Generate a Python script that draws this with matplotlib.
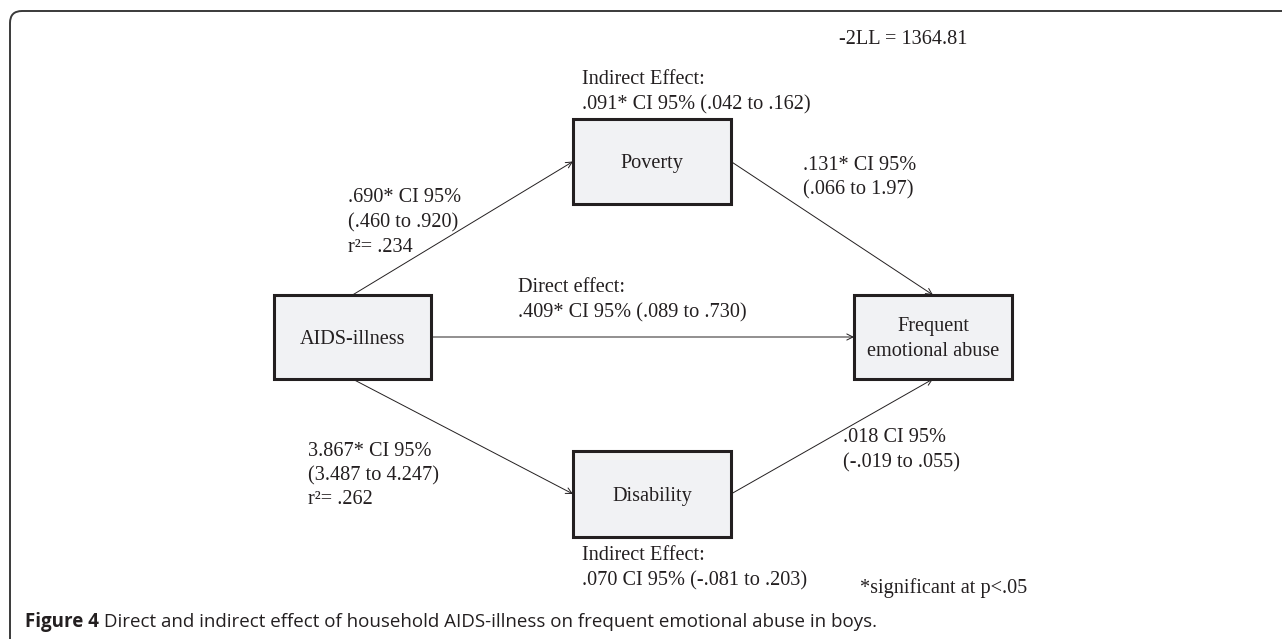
import matplotlib
matplotlib.use("Agg")
import matplotlib.pyplot as plt
from matplotlib.patches import FancyBboxPatch, Rectangle

# node labels and layout (pixel space, y down)
nodes = {
    "aids": ("AIDS-illness", 274, 295, 157, 84),
    "poverty": ("Poverty", 573, 119, 158, 85),
    "disability": ("Disability", 573, 451, 158, 86),
    "abuse": ("Frequent\nemotional abuse", 854, 295, 158, 84),
}

# path coefficients
a_poverty = [".690* CI 95%", "(.460 to .920)", "r\u00b2= .234"]
a_disability = ["3.867* CI 95%", "(3.487 to 4.247)", "r\u00b2= .262"]
b_poverty = [".131* CI 95%", "(.066 to 1.97)"]
b_disability = [".018 CI 95%", "(-.019 to .055)"]
direct = ["Direct effect:", ".409* CI 95% (.089 to .730)"]
ind_poverty = ["Indirect Effect:", ".091* CI 95% (.042 to .162)"]
ind_disability = ["Indirect Effect:", ".070 CI 95% (-.081 to .203)"]
loglik = "-2LL = 1364.81"
note = "*significant at p<.05"
caption_bold = "Figure 4"
caption = " Direct and indirect effect of household AIDS-illness on frequent emotional abuse in boys."

W, H = 1282, 639
ink = "#231f20"
serif = "Liberation Serif"
fs = 14.6

fig = plt.figure(figsize=(W / 100, H / 100), dpi=100)
ax = fig.add_axes([0, 0, 1, 1])
ax.set_xlim(0, W)
ax.set_ylim(H, 0)
ax.axis("off")

# outer rounded frame (runs off right and bottom edges)
ax.add_patch(FancyBboxPatch((10, 11), W + 40, H + 40,
                            boxstyle="round,pad=0,rounding_size=12",
                            fc="white", ec="#3a3a3a", lw=1.4))

for key, (label, x, y, w, h) in nodes.items():
    ax.add_patch(Rectangle((x, y), w, h, fc="#f1f2f4", ec=ink, lw=2.2, zorder=3))
    ax.text(x + w / 2, y + h / 2 + 2, label, ha="center", va="center",
            family=serif, fontsize=fs, color=ink, zorder=4, linespacing=1.4)


def side(key, where):
    _, x, y, w, h = nodes[key]
    return {"top": (x + w / 2, y), "bottom": (x + w / 2, y + h),
            "left": (x, y + h / 2), "right": (x + w, y + h / 2)}[where]


paths = [("aids", "top", "poverty", "left"),
         ("poverty", "right", "abuse", "top"),
         ("aids", "right", "abuse", "left"),
         ("aids", "bottom", "disability", "left"),
         ("disability", "right", "abuse", "bottom")]
for s, sw, t, tw in paths:
    ax.annotate("", xy=side(t, tw), xytext=side(s, sw),
                arrowprops=dict(arrowstyle="->", color=ink, lw=0.7,
                                mutation_scale=11, shrinkA=0, shrinkB=0))


def block(lines, x, y, step=24.5):
    for i, line in enumerate(lines):
        ax.text(x, y + i * step, line, ha="left", va="center",
                family=serif, fontsize=fs, color=ink)


block([loglik], 839, 39)
block(ind_poverty, 582, 80)
block(a_poverty, 348, 198)
block(direct, 518, 288)
block(b_poverty, 803, 165)
block(a_disability, 308, 451)
block(b_disability, 843, 438)
block(ind_disability, 582, 556)
block([note], 860, 588)

cap_fs = 13.5
t1 = ax.text(25, 622, caption_bold, ha="left", va="center", family="Open Sans",
             fontweight="bold", fontsize=cap_fs, color=ink)
fig.canvas.draw()
bb = t1.get_window_extent()
x_end = ax.transData.inverted().transform((bb.x1, bb.y0))[0]
ax.text(x_end, 622, caption, ha="left", va="center", family="Open Sans",
        fontsize=cap_fs, color=ink)

fig.savefig("out.png", dpi=100)
